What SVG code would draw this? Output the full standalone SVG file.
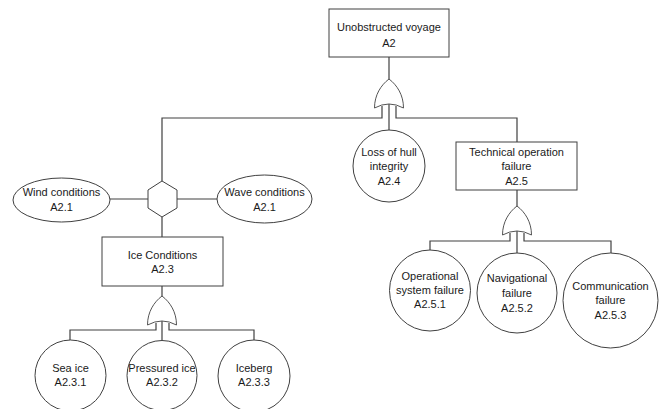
<svg xmlns="http://www.w3.org/2000/svg" width="666" height="409" viewBox="0 0 666 409">
  <defs>
    <style>
      .shape { fill: #ffffff; stroke: #404040; stroke-width: 1; }
      .gate { fill: #ffffff; stroke: #555555; stroke-width: 1; }
      .wire { fill: none; stroke: #404040; stroke-width: 1.2; }
      text { font-family: "Liberation Sans", Arial, sans-serif; font-size: 11px; fill: #1a1a1a; text-anchor: middle; dominant-baseline: central; }
    </style>
    <!-- OR gate, origin at apex, 29 wide, 29 tall -->
    <path id="orgate" d="M-14.5,29 C-14.5,16 -8,6 0,0 C8,6 14.5,16 14.5,29 Q0,21 -14.5,29 Z"/>
  </defs>
  <rect width="666" height="409" fill="#ffffff"/>

  <g id="connectors">
    <!-- A2 to its OR gate -->
    <line class="wire" x1="389" y1="57" x2="389" y2="80"/>
    <polyline class="wire" points="382,106 382,118 162,118 162,181"/>
    <line class="wire" x1="389" y1="104" x2="389" y2="130"/>
    <polyline class="wire" points="396,106 396,118 517,118 517,142"/>
    <!-- hexagon inhibit condition -->
    <line class="wire" x1="110" y1="199" x2="148" y2="199"/>
    <line class="wire" x1="177" y1="199" x2="217" y2="199"/>
    <line class="wire" x1="162" y1="217" x2="162" y2="237"/>
    <!-- A2.3 gate -->
    <line class="wire" x1="162" y1="286" x2="162" y2="297"/>
    <polyline class="wire" points="156,323 156,330 70,330 70,340"/>
    <line class="wire" x1="162" y1="321" x2="162" y2="340"/>
    <polyline class="wire" points="169,323 169,330 254,330 254,340"/>
    <!-- A2.5 gate -->
    <line class="wire" x1="517" y1="190" x2="517" y2="207"/>
    <polyline class="wire" points="510,233 510,241 430,241 430,250"/>
    <line class="wire" x1="517" y1="231" x2="517" y2="253"/>
    <polyline class="wire" points="524,233 524,241 611,241 611,253"/>
  </g>

  <g id="gate-A2"><use href="#orgate" class="gate" x="389" y="79"/></g>
  <g id="gate-A2.3"><use href="#orgate" class="gate" x="162" y="296"/></g>
  <g id="gate-A2.5"><use href="#orgate" class="gate" x="517" y="206"/></g>

  <g id="inhibit">
    <polygon class="shape" points="162,181 177,190 177,208 162,217 148,208 148,190"/>
  </g>

  <g id="A2">
    <rect class="shape" x="329" y="9" width="120" height="48"/>
    <text x="389" y="27">Unobstructed voyage</text>
    <text x="389" y="43">A2</text>
  </g>

  <g id="A2.1-wind">
    <ellipse class="shape" cx="61.5" cy="200" rx="48.5" ry="22"/>
    <text x="61.5" y="192">Wind conditions</text>
    <text x="61.5" y="207">A2.1</text>
  </g>

  <g id="A2.1-wave">
    <ellipse class="shape" cx="264.5" cy="199" rx="47.5" ry="24"/>
    <text x="264.5" y="192">Wave conditions</text>
    <text x="264.5" y="207">A2.1</text>
  </g>

  <g id="A2.3">
    <rect class="shape" x="102" y="237" width="121" height="49"/>
    <text x="162.5" y="255">Ice Conditions</text>
    <text x="162.5" y="269">A2.3</text>
  </g>

  <g id="A2.3.1">
    <circle class="shape" cx="70.5" cy="375.5" r="35.5"/>
    <text x="70.5" y="368">Sea ice</text>
    <text x="70.5" y="382">A2.3.1</text>
  </g>

  <g id="A2.3.2">
    <circle class="shape" cx="162" cy="375.5" r="35"/>
    <text x="162" y="368">Pressured ice</text>
    <text x="162" y="382">A2.3.2</text>
  </g>

  <g id="A2.3.3">
    <circle class="shape" cx="254" cy="376" r="36"/>
    <text x="254" y="368">Iceberg</text>
    <text x="254" y="382">A2.3.3</text>
  </g>

  <g id="A2.4">
    <circle class="shape" cx="389" cy="166" r="36"/>
    <text x="389" y="152">Loss of hull</text>
    <text x="389" y="166">integrity</text>
    <text x="389" y="181">A2.4</text>
  </g>

  <g id="A2.5">
    <rect class="shape" x="456" y="142" width="121" height="48"/>
    <text x="516.5" y="152">Technical operation</text>
    <text x="516.5" y="166">failure</text>
    <text x="516.5" y="181">A2.5</text>
  </g>

  <g id="A2.5.1">
    <circle class="shape" cx="430" cy="290.5" r="40.5"/>
    <text x="430" y="276">Operational</text>
    <text x="430" y="290">system failure</text>
    <text x="430" y="304">A2.5.1</text>
  </g>

  <g id="A2.5.2">
    <circle class="shape" cx="517" cy="293" r="40"/>
    <text x="517" y="278">Navigational</text>
    <text x="517" y="293">failure</text>
    <text x="517" y="308">A2.5.2</text>
  </g>

  <g id="A2.5.3">
    <circle class="shape" cx="610.5" cy="300.5" r="47.5"/>
    <text x="610.5" y="286">Communication</text>
    <text x="610.5" y="300">failure</text>
    <text x="610.5" y="315">A2.5.3</text>
  </g>
</svg>
